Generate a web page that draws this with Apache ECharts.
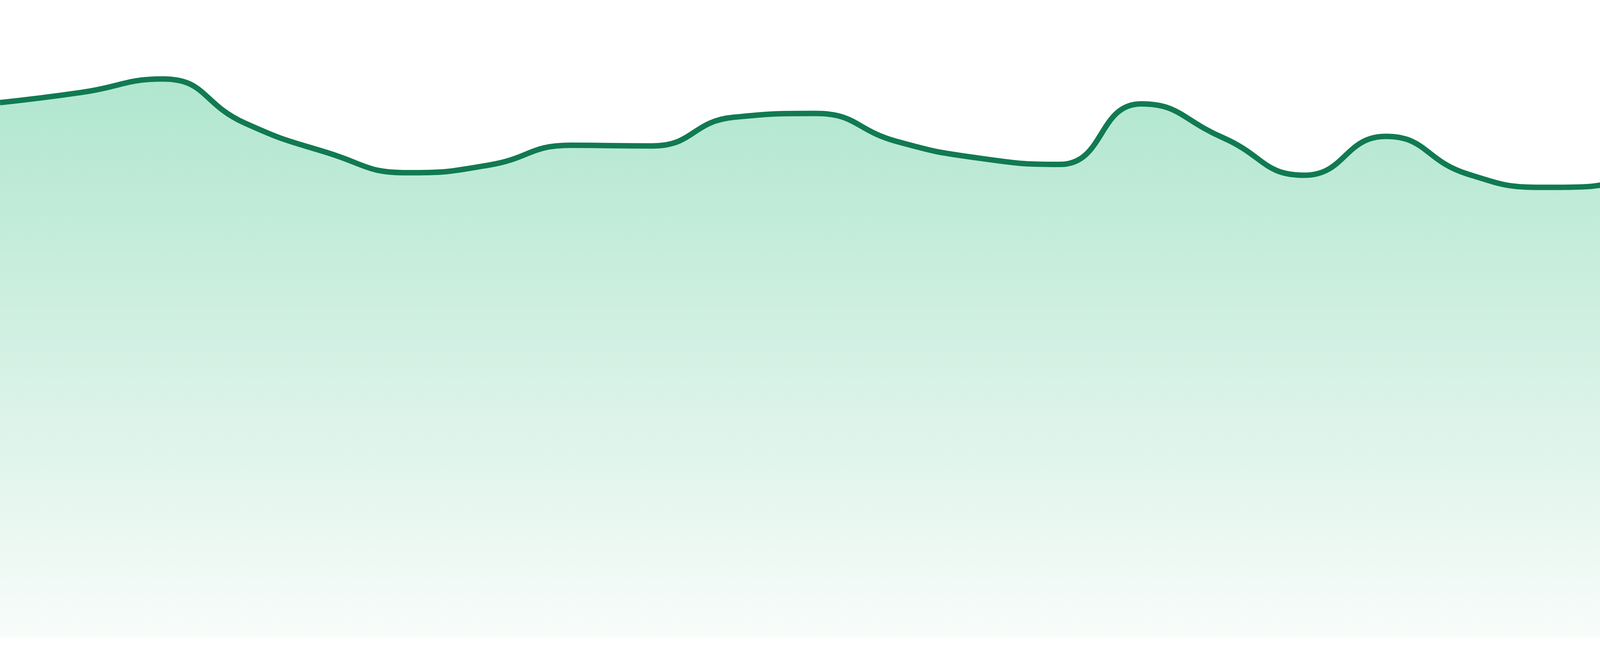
<!DOCTYPE html>
<html>
<head>
<meta charset="utf-8">
<style>
  html, body { margin: 0; padding: 0; background: #ffffff; }
  #chart { width: 4800px; height: 1680px; }
</style>
<script src="https://cdn.jsdelivr.net/npm/echarts@6/dist/echarts.min.js"></script>
</head>
<body>
<div id="chart"></div>
<script>
const categories = ['1','2','3','4','5','6','7','8','9','10','11','12','13','14','15','16','17','18','19','20','21','22','23','24'];
const values = [83.9, 85.5, 87.6, 80.7, 76.1, 72.9, 74.1, 77.2, 77.1, 81.6, 82.2, 77.8,
                75.2, 74.2, 83.7, 78.4, 72.5, 78.6, 72.7, 70.6, 71.8, 79.5, 81.5, 75.8];
const yMin = 0;
const yMax = 100;

const chart = echarts.init(document.getElementById('chart'), null, { renderer: 'canvas' });
chart.setOption({
  animation: false,
  backgroundColor: '#ffffff',
  grid: { left: 0, right: 0, top: 0, bottom: 48 },
  xAxis: {
    type: 'category',
    data: categories,
    boundaryGap: false,
    show: false
  },
  yAxis: {
    type: 'value',
    min: yMin,
    max: yMax,
    show: false
  },
  series: [{
    type: 'line',
    data: values,
    smooth: true,
    showSymbol: false,
    symbol: 'none',
    lineStyle: { color: '#117a52', width: 14 },
    areaStyle: {
      opacity: 1,
      color: new echarts.graphic.LinearGradient(0, 0, 0, 1, [
        { offset: 0, color: '#b0e6cf' },
        { offset: 1, color: '#f8fcfa' }
      ])
    }
  }]
});
</script>
</body>
</html>
